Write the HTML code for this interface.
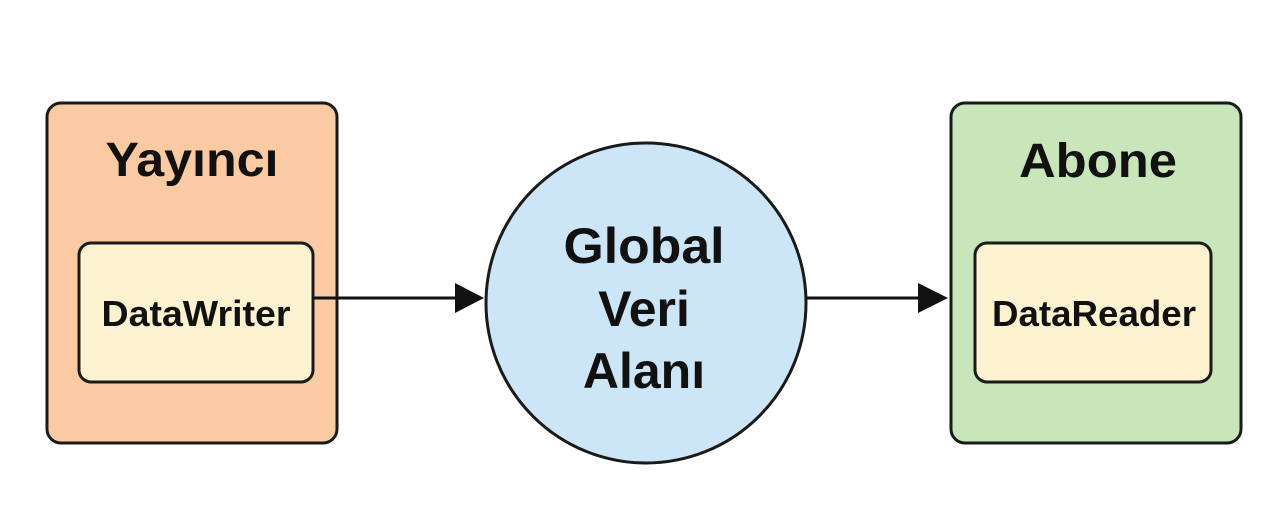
<!DOCTYPE html>
<html><head><meta charset="utf-8"><style>
body{margin:0;background:#fff;width:1280px;height:510px;overflow:hidden}
svg text{font-family:"Liberation Sans",sans-serif;font-weight:bold;fill:#111;text-anchor:middle}
</style></head><body>
<svg width="1280" height="510" viewBox="0 0 1280 510">
<rect x="47" y="103" width="290" height="340" rx="14" fill="#FACBA3" stroke="#1a1a1a" stroke-width="3"/>
<text x="192" y="176" font-size="48" textLength="173" lengthAdjust="spacingAndGlyphs">Yayıncı</text>
<rect x="79" y="243" width="234" height="139" rx="12" fill="#FDF2CF" stroke="#1a1a1a" stroke-width="3"/>
<text x="196" y="326" font-size="36" textLength="189" lengthAdjust="spacingAndGlyphs">DataWriter</text>
<rect x="951" y="103" width="290" height="340" rx="14" fill="#C9E6BB" stroke="#1a1a1a" stroke-width="3"/>
<text x="1098" y="177" font-size="48" textLength="158" lengthAdjust="spacingAndGlyphs">Abone</text>
<rect x="975" y="243" width="236" height="139" rx="12" fill="#FDF2CF" stroke="#1a1a1a" stroke-width="3"/>
<text x="1094" y="326" font-size="36" textLength="204" lengthAdjust="spacingAndGlyphs">DataReader</text>
<circle cx="646" cy="303" r="160" fill="#CDE6F7" stroke="#1a1a1a" stroke-width="3"/>
<text x="644" y="263" font-size="50" textLength="161" lengthAdjust="spacingAndGlyphs">Global</text>
<text x="644" y="326" font-size="50">Veri</text>
<text x="644" y="388" font-size="50">Alanı</text>
<line x1="313" y1="298" x2="460" y2="298" stroke="#111" stroke-width="3"/>
<polygon points="455,283 484,298 455,313" fill="#111"/>
<line x1="806" y1="298" x2="922" y2="298" stroke="#111" stroke-width="3"/>
<polygon points="918,283 948,298 918,313" fill="#111"/>
</svg>
</body></html>
